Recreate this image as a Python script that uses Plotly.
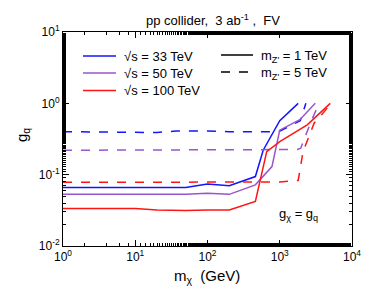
import plotly.graph_objects as go

# ---- data ----
x_33_1 = [1, 10, 20, 50, 100, 200, 460, 590, 1000, 1800]
y_33_1 = [0.066, 0.066, 0.067, 0.066, 0.074, 0.070, 0.094, 0.22, 0.57, 1.0]

x_33_5 = [1, 20, 37, 100, 200, 500, 960, 1920, 2300]
y_33_5 = [0.40, 0.39, 0.41, 0.41, 0.40, 0.40, 0.40, 0.57, 1.0]

x_50_1 = [1, 10, 20, 50, 100, 200, 460, 780, 1000, 1900, 3100]
y_50_1 = [0.053, 0.053, 0.054, 0.053, 0.055, 0.053, 0.072, 0.13, 0.42, 0.59, 1.0]

x_50_5 = [1, 10, 100, 1000, 1750, 1950, 2700, 3500]
y_50_5 = [0.22, 0.22, 0.22, 0.22, 0.225, 0.235, 0.55, 1.0]

x_100_1 = [1, 10, 20, 50, 100, 200, 460, 570, 660, 1000, 2400, 5000]
y_100_1 = [0.0335, 0.0335, 0.032, 0.0315, 0.032, 0.032, 0.042, 0.11, 0.21, 0.29, 0.50, 1.0]

x_100_5 = [1, 10, 100, 1000, 1800, 2100, 3000, 5200]
y_100_5 = [0.078, 0.078, 0.078, 0.079, 0.083, 0.21, 0.53, 1.0]

x_tickvals = [1, 10, 100, 1000, 10000]
x_ticktext = ["10<sup>0</sup>", "10<sup>1</sup>", "10<sup>2</sup>", "10<sup>3</sup>", "10<sup>4</sup>"]
y_tickvals = [0.01, 0.1, 1, 10]
y_ticktext = ["10<sup>-2</sup>", "10<sup>-1</sup>", "10<sup>0</sup>", "10<sup>1</sup>"]

BLUE = "#1414ff"
PURPLE = "#9955cc"
RED = "#ff1414"
FONT = "Liberation Sans, Arial, sans-serif"

series = [
    (x_33_1, y_33_1, BLUE, "solid"),
    (x_33_5, y_33_5, BLUE, "dash"),
    (x_50_1, y_50_1, PURPLE, "solid"),
    (x_50_5, y_50_5, PURPLE, "dash"),
    (x_100_1, y_100_1, RED, "solid"),
    (x_100_5, y_100_5, RED, "dash"),
]

fig = go.Figure()
for xs, ys, col, dash in series:
    fig.add_trace(go.Scatter(x=xs, y=ys, mode="lines", showlegend=False,
                             line=dict(color=col, width=1.5, dash=dash)))

axis_common = dict(
    type="log", showline=True, linecolor="black", linewidth=1, mirror="allticks",
    ticks="inside", ticklen=6, tickcolor="black", showgrid=False, zeroline=False,
    automargin=False,
    tickfont=dict(family=FONT, size=12, color="black"),
    minor=dict(ticks="inside", ticklen=3, tickcolor="black", showgrid=False),
)

fig.update_xaxes(range=[0, 4], tickvals=x_tickvals, ticktext=x_ticktext, **axis_common)
fig.update_yaxes(range=[-2, 1], tickvals=y_tickvals, ticktext=y_ticktext, **axis_common)

# page body has an 8px margin, so the figure is shrunk and positions are offset
OFF = 8
W, H = 374 - OFF, 299 - OFF
PL, PR, PT, PB = 63, 352, 32, 246  # plot box in window pixels
L, R, T, B = PL - OFF, W - (PR - OFF), PT - OFF, H - (PB - OFF)
pw, ph = W - L - R, H - T - B

def px_x(p):
    return (p - OFF - L) / pw

def px_y(p):
    return 1 - (p - OFF - T) / ph

legend_left = [("√s = 33 TeV", BLUE, 56), ("√s = 50 TeV", PURPLE, 73), ("√s = 100 TeV", RED, 90.5)]
legend_right = [("m<sub>Z'</sub> = 1 TeV", "solid", 55), ("m<sub>Z'</sub> = 5 TeV", "dash", 72)]

shapes = []
annotations = []
for text, col, yy in legend_left:
    shapes.append(dict(type="line", xref="paper", yref="paper", x0=px_x(83), x1=px_x(116),
                       y0=px_y(yy), y1=px_y(yy), line=dict(color=col, width=1.5)))
    annotations.append(dict(text=text, xref="paper", yref="paper", x=px_x(122), y=px_y(yy),
                            xanchor="left", yanchor="middle", showarrow=False,
                            font=dict(family=FONT, size=13, color="black")))
for text, dash, yy in legend_right:
    shapes.append(dict(type="line", xref="paper", yref="paper", x0=px_x(221), x1=px_x(253),
                       y0=px_y(yy), y1=px_y(yy), line=dict(color="black", width=1.5, dash=dash)))
    annotations.append(dict(text=text, xref="paper", yref="paper", x=px_x(259), y=px_y(yy + 1),
                            xanchor="left", yanchor="middle", showarrow=False,
                            font=dict(family=FONT, size=13, color="black")))

annotations.append(dict(text="g<sub>χ</sub> = g<sub>q</sub>", xref="paper", yref="paper",
                        x=px_x(298), y=px_y(214), xanchor="center", yanchor="middle",
                        showarrow=False, font=dict(family=FONT, size=13, color="black")))
annotations.append(dict(text="pp collider,  3 ab<sup>-1</sup> ,  FV", xref="paper", yref="paper",
                        x=px_x(213), y=px_y(20), xanchor="center", yanchor="middle",
                        showarrow=False, font=dict(family=FONT, size=13, color="black")))
annotations.append(dict(text="m<sub>χ</sub>  (GeV)", xref="paper", yref="paper",
                        x=px_x(207), y=px_y(276), xanchor="center", yanchor="middle",
                        showarrow=False, font=dict(family=FONT, size=15, color="black")))
annotations.append(dict(text="g<sub>q</sub>", xref="paper", yref="paper", textangle=-90,
                        x=px_x(22), y=px_y(135), xanchor="center", yanchor="middle",
                        showarrow=False, font=dict(family=FONT, size=15, color="black")))

fig.update_layout(
    width=W, height=H, margin=dict(l=L, r=R, t=T, b=B, autoexpand=False),
    paper_bgcolor="white", plot_bgcolor="white",
    shapes=shapes, annotations=annotations,
    font=dict(family=FONT, color="black"),
)

fig.write_html("out.html")
